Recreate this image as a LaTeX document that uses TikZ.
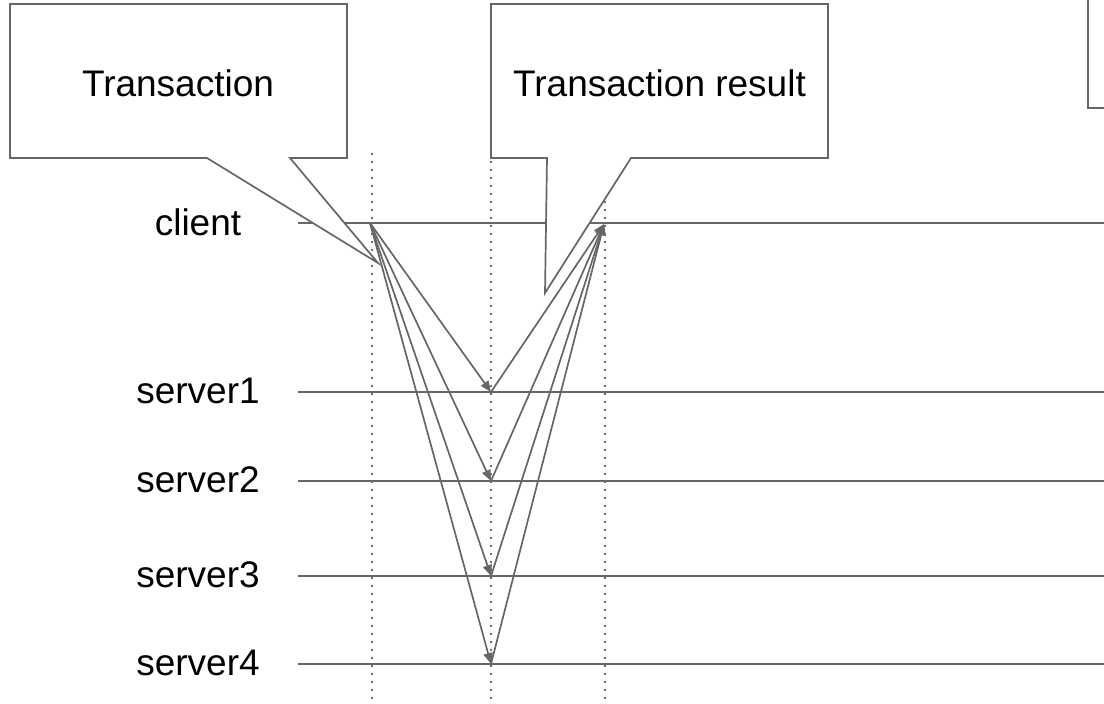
\documentclass[tikz,border=0pt]{standalone}
\usepackage{fontspec}
\setmainfont{Liberation Sans}
\usetikzlibrary{arrows.meta}
\definecolor{lg}{RGB}{102,102,102}
\definecolor{dg}{RGB}{110,110,110}
\tikzset{
  life/.style={draw=lg,line width=1.7pt},
  vdots/.style={draw=dg,line width=1.8pt,dash pattern=on 1.8pt off 6.2pt},
  callout/.style={draw=lg,line width=1.7pt,fill=white,line join=miter},
  msg/.style={draw=lg,line width=1.7pt,-{Triangle[length=11pt,width=9pt]}},
  lbl/.style={font=\fontsize{37}{44}\selectfont,text=black,inner sep=0pt,anchor=base},
}
\begin{document}
\begin{tikzpicture}[x=1pt,y=-1pt]
\useasboundingbox (0,0) rectangle (1104,704);
\clip (0,0) rectangle (1104,704);
% lifeline endpoints
\foreach \n/\y in {c/223,s1/392,s2/481,s3/576,s4/664}{
  \coordinate (\n L) at (298,\y);
  \coordinate (\n R) at (1104,\y);
  \coordinate (\n M) at (491,\y);
}
\coordinate (cS) at (370,223);
\coordinate (cE) at (604,224);
% lifelines
\foreach \n in {c,s1,s2,s3,s4}{ \draw[life] (\n L) -- (\n R); }
% dotted verticals
\coordinate (d1t) at (372,153); \coordinate (d1b) at (372,702);
\coordinate (d2t) at (491,153); \coordinate (d2b) at (491,702);
\coordinate (d3t) at (605,153); \coordinate (d3b) at (605,702);
\draw[vdots] (d1t) -- (d1b);
\draw[vdots] (d2t) -- (d2b);
\draw[vdots] (d3t) -- (d3b);
% callouts
\draw[callout] (10,4) -- (347,4) -- (347,158) -- (290,158) -- (378,263) -- (207,158) -- (10,158) -- cycle;
\node[lbl] (tx) at (178,96) {Transaction};
\draw[callout] (491,4) -- (828,4) -- (828,158) -- (631,158) -- (545,293) -- (547,158) -- (491,158) -- cycle;
\node[lbl] (txr) at (659.5,96) {Transaction result};
\draw[callout] (1088,-20) rectangle (1130,108);
% messages
\foreach \n in {s1,s2,s3,s4}{
  \draw[msg] (cS) -- (\n M);
  \draw[msg] (\n M) -- (cE);
}
% labels
\node[lbl] (lc) at (198,235) {client};
\node[lbl] (l1) at (198,403) {server1};
\node[lbl] (l2) at (198,492) {server2};
\node[lbl] (l3) at (198,587) {server3};
\node[lbl] (l4) at (198,675) {server4};
\end{tikzpicture}
\end{document}
